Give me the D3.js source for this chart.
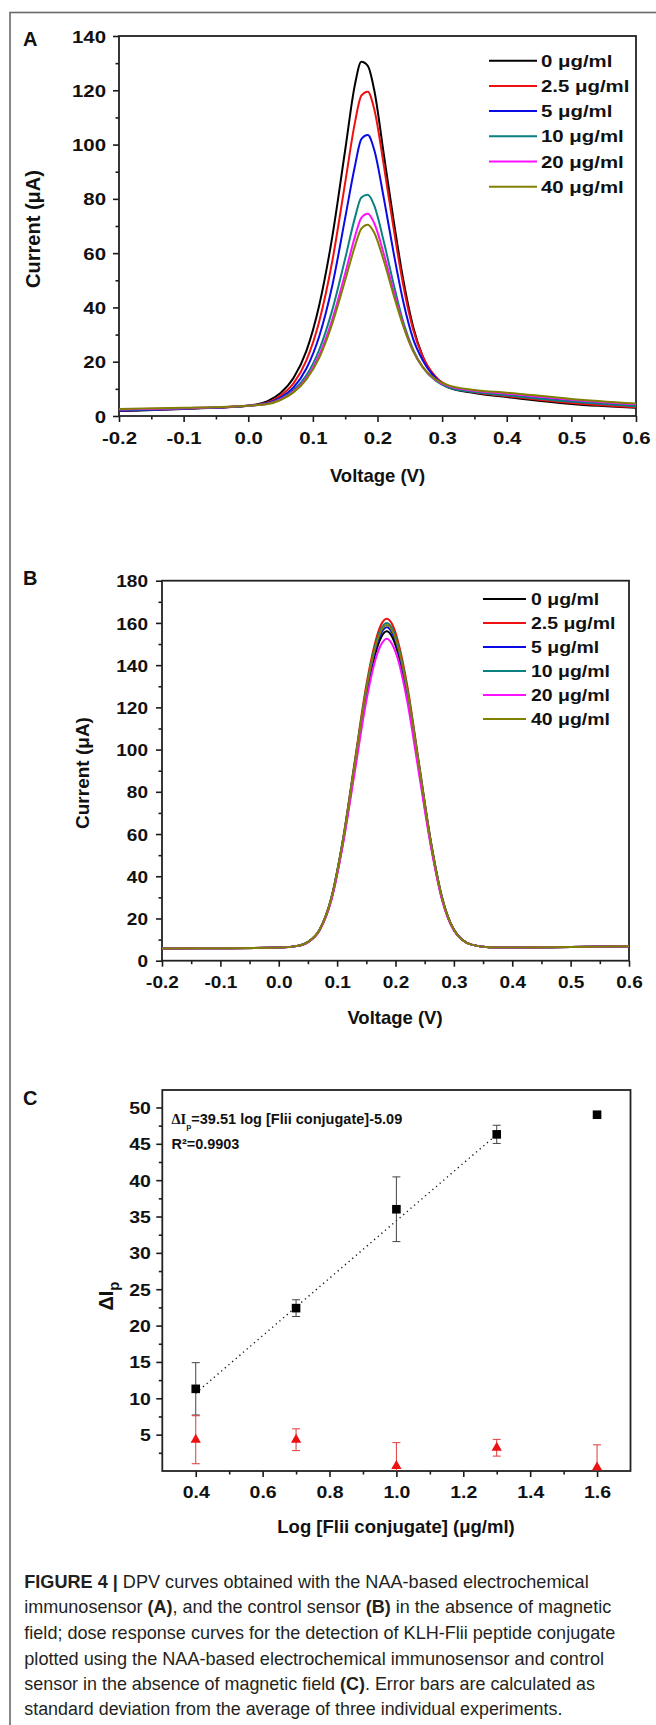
<!DOCTYPE html>
<html>
<head>
<meta charset="utf-8">
<script src="https://cdnjs.cloudflare.com/ajax/libs/d3/7.8.5/d3.min.js"></script>
<style>
  html, body { margin: 0; padding: 0; background: #fff; }
  svg { display: block; }
</style>
</head>
<body>
<div id="fig"></div>
<script>
// ---- data ----
const seriesNames = ["0 \u03bcg/ml", "2.5 \u03bcg/ml", "5 \u03bcg/ml", "10 \u03bcg/ml", "20 \u03bcg/ml", "40 \u03bcg/ml"];
const seriesColors = ["#000000", "#f01010", "#0a0ae6", "#0a8080", "#ff10ff", "#808000"];

// panel A : NAA-based immunosensor
const voltageA = [-0.2, -0.1, 0, 0.03, 0.05, 0.07, 0.09, 0.11, 0.13, 0.15, 0.165, 0.175, 0.185, 0.195, 0.21, 0.225, 0.24, 0.255, 0.27, 0.29, 0.31, 0.35, 0.4, 0.5, 0.6];
const currentA0   = [1.8, 2.6, 3.8, 5.5, 8.5, 14, 24, 41, 66, 98, 122, 130.5, 129, 120, 96, 72, 50, 33, 22, 14, 10.5, 8.5, 7, 4.4, 3];
const currentA2_5 = [2.0, 2.7, 3.8, 5, 7.5, 12, 20.5, 35, 57, 86, 108, 118, 119.5, 113, 92, 69, 48, 32, 22, 14.5, 11, 8.7, 7.3, 4.8, 3.2];
const currentA5   = [2.0, 2.7, 3.8, 4.8, 6.8, 10.5, 17.5, 29.5, 48, 73, 92, 102, 103.5, 98, 80, 60, 42, 28.5, 20.5, 14, 11, 9, 7.8, 5.4, 3.8];
const currentA10  = [2.3, 2.8, 3.8, 4.6, 6.3, 9.5, 15, 24.5, 39, 58, 73, 80.5, 81.5, 77.5, 64, 48.5, 34.5, 24.5, 18, 13, 10.5, 8.8, 7.6, 5.3, 3.6];
const currentA20  = [2.4, 2.9, 3.8, 4.5, 6.1, 9, 14, 22.5, 35.5, 52.5, 66, 73, 74.5, 71, 59.5, 46, 33.5, 24, 18, 13.3, 11, 9.3, 8.2, 6.0, 4.3];
const currentA40  = [2.6, 3.0, 3.8, 4.4, 5.9, 8.7, 13.5, 21.5, 34, 50, 62.5, 69, 70.5, 67.5, 57, 44.5, 33, 24, 18, 13.5, 11.3, 9.6, 8.6, 6.3, 4.6];

// panel B : control sensor
const voltageB = [-0.2, -0.1, 0, 0.03, 0.05, 0.07, 0.09, 0.11, 0.13, 0.15, 0.165, 0.175, 0.185, 0.195, 0.205, 0.22, 0.24, 0.26, 0.28, 0.3, 0.33, 0.36, 0.4, 0.5, 0.6];
const currentB0   = [5.8, 5.9, 6.2, 6.9, 8.8, 14.5, 29, 56, 91, 126, 145, 153, 156, 153, 145, 126, 91, 56, 29, 14.5, 7.6, 6.4, 6.3, 6.5, 6.8];
const currentB2_5 = [5.8, 5.9, 6.2, 6.9, 8.9, 14.8, 29.8, 57.5, 94, 130.5, 150.5, 159, 162, 159, 150.5, 130.5, 94, 57.5, 29.8, 14.8, 7.6, 6.4, 6.3, 6.5, 6.8];
const currentB5   = [5.8, 5.9, 6.2, 6.9, 8.8, 14.6, 29.3, 56.8, 92.5, 127.5, 147, 155, 158, 155, 147, 127.5, 92.5, 56.8, 29.3, 14.6, 7.6, 6.4, 6.3, 6.5, 6.8];
const currentB10  = [5.8, 5.9, 6.2, 6.9, 8.9, 14.7, 29.6, 57.2, 93.3, 129, 149, 157, 160, 157, 149, 129, 93.3, 57.2, 29.6, 14.7, 7.6, 6.4, 6.3, 6.5, 6.8];
const currentB20  = [5.8, 5.9, 6.2, 6.9, 8.7, 14.3, 28.5, 55, 89, 123, 142, 149.5, 152.5, 149.5, 142, 123, 89, 55, 28.5, 14.3, 7.6, 6.4, 6.3, 6.5, 6.8];
const currentB40  = [5.8, 5.9, 6.2, 6.9, 8.9, 14.7, 29.5, 57, 93, 128.5, 148, 156, 159, 156, 148, 128.5, 93, 57, 29.5, 14.7, 7.6, 6.4, 6.3, 6.5, 6.8];

// panel C : dose response
const logConc = [0.4, 0.7, 1.0, 1.3, 1.6];
const dIpNaa = [11.3, 22.4, 36.0, 46.3, 49.0];
const dIpNaaErr = [3.6, 1.15, 4.45, 1.25, 0.4];
const dIpControl = [4.3, 4.3, 0.7, 3.2, 0.5];
const dIpControlErr = [3.3, 1.5, 3.2, 1.15, 3.1];
const fitLine = [[0.4, 10.71], [1.3, 46.27]];

// ticks
const voltTicks = [-0.2, -0.1, 0, 0.1, 0.2, 0.3, 0.4, 0.5, 0.6];
const voltMinor = [-0.15, -0.05, 0.05, 0.15, 0.25, 0.35, 0.45, 0.55];
const curTicksA = [0, 20, 40, 60, 80, 100, 120, 140];
const curMinorA = [10, 30, 50, 70, 90, 110, 130];
const curTicksB = [0, 20, 40, 60, 80, 100, 120, 140, 160, 180];
const curMinorB = [10, 30, 50, 70, 90, 110, 130, 150, 170];
const logTicks = [0.4, 0.6, 0.8, 1.0, 1.2, 1.4, 1.6];
const logMinor = [0.5, 0.7, 0.9, 1.1, 1.3, 1.5];
const dIpTicks = [5, 10, 15, 20, 25, 30, 35, 40, 45, 50];
const dIpMinor = [2.5, 7.5, 12.5, 17.5, 22.5, 27.5, 32.5, 37.5, 42.5, 47.5];

const captionLines = [
  [["FIGURE 4 | ", true], ["DPV curves obtained with the NAA-based electrochemical", false]],
  [["immunosensor ", false], ["(A)", true], [", and the control sensor ", false], ["(B)", true], [" in the absence of magnetic", false]],
  [["field; dose response curves for the detection of KLH-Flii peptide conjugate", false]],
  [["plotted using the NAA-based electrochemical immunosensor and control", false]],
  [["sensor in the absence of magnetic field ", false], ["(C)", true], [". Error bars are calculated as", false]],
  [["standard deviation from the average of three individual experiments.", false]]
];
const captionRight = [589, 611.7, 616, 604.6, 595.4, 562.8];

// ---- drawing ----
const FONT = "'Liberation Sans', Arial, Helvetica, sans-serif";

const svgDom = d3.select('#fig')
  .append('svg')
  .attr('width', 656)
  .attr('height', 1725)
  .attr('font-family', FONT);

// outer figure frame (runs off the right and bottom)
svgDom.append('rect')
  .attr('x', 10).attr('y', 12.5)
  .attr('width', 800).attr('height', 1900)
  .attr('fill', 'none')
  .attr('stroke', '#6a6a6a')
  .attr('stroke-width', 1.6);

let clipId = 0;

// squeeze/stretch a text horizontally so it spans a given width
const fitWidth = (t, x0, y0, width) => {
  const w = t.node().getComputedTextLength();
  t.attr('x', 0).attr('y', 0)
    .attr('transform', `translate(${x0},${y0}) scale(${width / w},1)`);
};

const drawAxes = (p, x, y) => {
  const g = svgDom.append('g');
  const y0 = p.yRange[0], x0 = p.xRange[0];

  // minor ticks
  g.append('g').attr('transform', `translate(0,${y0})`)
    .call(d3.axisBottom(x).tickValues(p.xMinor).tickSize(3.5).tickSizeOuter(0).tickFormat(''))
    .call(s => s.select('.domain').remove());
  g.append('g').attr('transform', `translate(${x0},0)`)
    .call(d3.axisLeft(y).tickValues(p.yMinor).tickSize(3.5).tickSizeOuter(0).tickFormat(''))
    .call(s => s.select('.domain').remove());

  // major ticks + labels
  g.append('g').attr('transform', `translate(0,${y0})`)
    .call(d3.axisBottom(x).tickValues(p.xTicks).tickSize(6).tickSizeOuter(0).tickFormat(d => d.toFixed(1)))
    .call(s => s.select('.domain').remove())
    .call(s => s.selectAll('text')
      .attr('y', p.xLabOff).attr('dy', 0)
      .attr('transform', `scale(${p.sx},1)`));
  g.append('g').attr('transform', `translate(${x0},0)`)
    .call(d3.axisLeft(y).tickValues(p.yTicks).tickSize(6).tickSizeOuter(0).tickFormat(d3.format('d')))
    .call(s => s.select('.domain').remove())
    .call(s => s.selectAll('text')
      .attr('x', -p.yLabOff / p.sx).attr('dy', '0.36em')
      .attr('transform', `scale(${p.sx},1)`));

  g.selectAll('.tick line').attr('stroke', '#1a1a1a').attr('stroke-width', 1.6);
  g.selectAll('.tick text')
    .attr('fill', '#111')
    .attr('font-family', FONT)
    .attr('font-weight', 'bold')
    .attr('font-size', p.tickFont);

  // frame
  svgDom.append('rect')
    .attr('x', x0).attr('y', p.yRange[1])
    .attr('width', p.xRange[1] - x0)
    .attr('height', y0 - p.yRange[1])
    .attr('fill', 'none')
    .attr('stroke', '#222')
    .attr('stroke-width', 1.8);

  // panel letter
  svgDom.append('text')
    .attr('x', 23).attr('y', p.letterY)
    .attr('font-size', 20).attr('font-weight', 'bold')
    .attr('fill', '#111')
    .text(p.letter);

  // clip for data
  const id = 'clip' + (clipId++);
  svgDom.append('clipPath').attr('id', id)
    .append('rect')
    .attr('x', x0).attr('y', p.yRange[1])
    .attr('width', p.xRange[1] - x0)
    .attr('height', y0 - p.yRange[1]);
  return svgDom.append('g').attr('clip-path', `url(#${id})`);
};

const axisTitles = p => {
  svgDom.append('text')
    .attr('x', p.xTitle[0]).attr('y', p.xTitle[1])
    .attr('text-anchor', 'middle')
    .attr('font-size', 18.5).attr('font-weight', 'bold').attr('fill', '#111')
    .text(p.xTitleText);
};

const yTitle = (cx, cy, size, build) => {
  const t = svgDom.append('text')
    .attr('transform', `translate(${cx},${cy}) rotate(-90)`)
    .attr('text-anchor', 'middle')
    .attr('dy', '0.35em')
    .attr('font-size', size).attr('font-weight', 'bold').attr('fill', '#111');
  build(t);
};

const drawCurves = (p, volts, series) => {
  const x = d3.scaleLinear().domain(p.xDomain).range(p.xRange);
  const y = d3.scaleLinear().domain(p.yDomain).range(p.yRange);
  const plot = drawAxes(p, x, y);
  const line = d3.line()
    .x((d, i) => x(volts[i]))
    .y(d => y(d))
    .curve(d3.curveMonotoneX);

  plot.selectAll('path.curve')
    .data(series)
    .join('path')
    .attr('class', 'curve')
    .attr('d', d => line(d))
    .attr('fill', 'none')
    .attr('stroke', (d, i) => seriesColors[i])
    .attr('stroke-width', 2);

  // legend
  const lg = svgDom.append('g');
  seriesNames.forEach((name, i) => {
    const yy = p.legend.y + i * p.legend.dy;
    lg.append('line')
      .attr('x1', p.legend.x1).attr('x2', p.legend.x2)
      .attr('y1', yy).attr('y2', yy)
      .attr('stroke', seriesColors[i]).attr('stroke-width', 2);
    lg.append('text')
      .attr('transform', `translate(${p.legend.tx},${yy}) scale(${p.legend.sx},1)`)
      .attr('dy', '0.36em')
      .attr('font-size', p.legend.font).attr('font-weight', 'bold').attr('fill', '#111')
      .text(name);
  });

  axisTitles(p);
};

// Panel A
drawCurves({
  letter: 'A', letterY: 46,
  xDomain: [-0.2, 0.6], xRange: [119, 636],
  yDomain: [0, 140], yRange: [416, 36],
  xTicks: voltTicks, xMinor: voltMinor, yTicks: curTicksA, yMinor: curMinorA,
  tickFont: 17, sx: 1.2, xLabOff: 28, yLabOff: 13,
  legend: { x1: 489, x2: 537, tx: 541, y: 60.7, dy: 25.2, font: 17, sx: 1.2 },
  xTitle: [377.5, 482], xTitleText: 'Voltage (V)'
}, voltageA, [currentA0, currentA2_5, currentA5, currentA10, currentA20, currentA40]);
yTitle(33, 229, 20, t => t.text('Current (\u03bcA)'));

// Panel B
drawCurves({
  letter: 'B', letterY: 585,
  xDomain: [-0.2, 0.6], xRange: [162, 629],
  yDomain: [0, 180], yRange: [960.7, 580.7],
  xTicks: voltTicks, xMinor: voltMinor, yTicks: curTicksB, yMinor: curMinorB,
  tickFont: 17, sx: 1.12, xLabOff: 27.5, yLabOff: 14,
  legend: { x1: 483, x2: 526, tx: 531, y: 599, dy: 24, font: 16.5, sx: 1.18 },
  xTitle: [395, 1023.5], xTitleText: 'Voltage (V)'
}, voltageB, [currentB0, currentB2_5, currentB5, currentB10, currentB20, currentB40]);
yTitle(82, 773, 19, t => t.text('Current (\u03bcA)'));

// Panel C
const pC = {
  letter: 'C', letterY: 1105,
  xDomain: [0.3, 1.7], xRange: [162.3, 630.5],
  yDomain: [0, 52.4], yRange: [1471, 1090],
  xTicks: logTicks, xMinor: logMinor, yTicks: dIpTicks, yMinor: dIpMinor,
  tickFont: 16.5, sx: 1.18, xLabOff: 27, yLabOff: 11.5,
  xTitle: [396, 1533], xTitleText: 'Log [Flii conjugate] (\u03bcg/ml)'
};
const xC = d3.scaleLinear().domain(pC.xDomain).range(pC.xRange);
const yC = d3.scaleLinear().domain(pC.yDomain).range(pC.yRange);
const plotC = drawAxes(pC, xC, yC);
axisTitles(pC);
yTitle(106, 1296, 20, t => {
  t.append('tspan').text('\u0394I');
  t.append('tspan').attr('font-size', 15).attr('dy', 6).text('p');
});

// fit line
plotC.append('path')
  .attr('d', d3.line().x(d => xC(d[0])).y(d => yC(d[1]))(fitLine))
  .attr('fill', 'none')
  .attr('stroke', '#111')
  .attr('stroke-width', 1.4)
  .attr('stroke-dasharray', '1.2,3.6');

const errBars = (vals, errs, color) => {
  const g = plotC.append('g').attr('stroke', color).attr('stroke-width', 1);
  logConc.forEach((c, i) => {
    const cx = xC(c), lo = yC(vals[i] - errs[i]), hi = yC(vals[i] + errs[i]);
    g.append('line').attr('x1', cx).attr('x2', cx).attr('y1', lo).attr('y2', hi);
    g.append('line').attr('x1', cx - 4).attr('x2', cx + 4).attr('y1', lo).attr('y2', lo);
    g.append('line').attr('x1', cx - 4).attr('x2', cx + 4).attr('y1', hi).attr('y2', hi);
  });
};
errBars(dIpNaa, dIpNaaErr, '#444');
errBars(dIpControl, dIpControlErr, '#e23a3a');

plotC.selectAll('rect.naa')
  .data(logConc)
  .join('rect')
  .attr('class', 'naa')
  .attr('x', d => xC(d) - 4.3)
  .attr('y', (d, i) => yC(dIpNaa[i]) - 4.3)
  .attr('width', 8.6).attr('height', 8.6)
  .attr('fill', '#000');

plotC.selectAll('path.ctrl')
  .data(logConc)
  .join('path')
  .attr('class', 'ctrl')
  .attr('transform', (d, i) => `translate(${xC(d)},${yC(dIpControl[i])})`)
  .attr('d', d3.symbol(d3.symbolTriangle).size(46))
  .attr('fill', '#ee1111');

// equation text
const eq = svgDom.append('text')
  .attr('font-size', 14).attr('font-weight', 'bold').attr('fill', '#111');
eq.append('tspan').attr('font-family', "'Liberation Serif', 'Times New Roman', serif").text('\u0394I');
eq.append('tspan').attr('font-size', 8).attr('dy', 5).text('p');
eq.append('tspan').attr('dy', -5).text('=39.51 log [Flii conjugate]-5.09');
fitWidth(eq, 171.5, 1124, 231);
const r2 = svgDom.append('text')
  .attr('font-size', 14).attr('font-weight', 'bold').attr('fill', '#111')
  .text('R\u00b2=0.9903');
fitWidth(r2, 171.5, 1148.5, 68);

// caption
const capY = [1581.7, 1606.7, 1632.7, 1658.3, 1683.3, 1708.3];
captionLines.forEach((segs, i) => {
  const t = svgDom.append('text')
    .attr('font-size', 18)
    .attr('fill', '#231f20');
  segs.forEach(([txt, bold]) => {
    t.append('tspan').attr('font-weight', bold ? 'bold' : 'normal').text(txt);
  });
  fitWidth(t, 24.3, capY[i] + 6.5, captionRight[i] - 24.3);
});
</script>
</body>
</html>
